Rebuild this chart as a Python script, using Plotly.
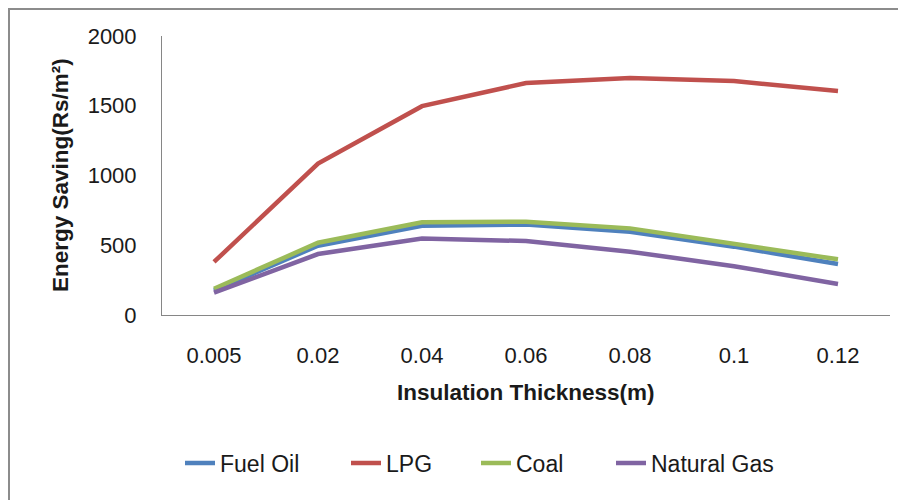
import plotly.graph_objects as go

thickness = ["0.005", "0.02", "0.04", "0.06", "0.08", "0.1", "0.12"]
fuel_oil = [175, 497, 640, 648, 597, 490, 365]
lpg = [380, 1085, 1497, 1663, 1699, 1677, 1605]
coal = [188, 518, 664, 669, 621, 514, 399]
natural_gas = [160, 437, 549, 530, 454, 350, 222]

series = [
    ("Fuel Oil", fuel_oil, "#4F81BD"),
    ("LPG", lpg, "#C0504D"),
    ("Coal", coal, "#9BBB59"),
    ("Natural Gas", natural_gas, "#8064A2"),
]
legend_ids = ["legend", "legend2", "legend3", "legend4"]
legend_text_x = [220, 386, 516, 651]  # where each legend label starts (px)

FONT = "Liberation Sans"
TXT = "#1a1a1a"
fig = go.Figure()
for (name, vals, col), lid in zip(series, legend_ids):
    fig.add_trace(go.Scatter(x=thickness, y=vals, name=name, mode="lines",
                             legend=lid,
                             line=dict(color=col, width=4.5)))

# page is offset by the 8px body margin; work in reference pixel coords
OFF = 8
W, H = 906 - OFF, 500 - OFF
PL, PR, PT, PB = 162, 890, 36, 315  # plot area in reference pixels
L, T = PL - OFF, PT - OFF
R = W - (PR - OFF)
B = H - (PB - OFF)
pw, ph = PR - PL, PB - PT

def px2paper_x(px):
    return (px - PL) / pw

def px2paper_y(py):
    return (PB - py) / ph

legends = {}
for lid, tx in zip(legend_ids, legend_text_x):
    legends[lid] = dict(orientation="h", x=px2paper_x(tx - 40), xanchor="left",
                        y=px2paper_y(463), yanchor="middle",
                        bgcolor="rgba(0,0,0,0)",
                        font=dict(family=FONT, size=23, color=TXT),
                        itemwidth=30)

fig.update_layout(
    width=W, height=H,
    margin=dict(l=L, r=R, t=T, b=B, pad=0),
    paper_bgcolor="white", plot_bgcolor="white",
    font=dict(family=FONT, size=22, color=TXT),
    showlegend=True,
    **legends,
    xaxis=dict(type="category", range=[-0.5, 6.5], showgrid=False,
               showline=True, linecolor="#868686", linewidth=1,
               ticks="outside", ticklen=21, tickcolor="rgba(0,0,0,0)",
               tickfont=dict(family=FONT, size=22, color=TXT),
               zeroline=False),
    yaxis=dict(range=[0, 2000], tickvals=[0, 500, 1000, 1500, 2000],
               showgrid=False, showline=True, linecolor="#868686", linewidth=1,
               ticks="outside", ticklen=20, tickcolor="rgba(0,0,0,0)",
               tickfont=dict(family=FONT, size=22, color=TXT),
               zeroline=False),
    annotations=[
        dict(text="<b>Insulation Thickness(m)</b>", xref="paper", yref="paper",
             x=px2paper_x(526), y=px2paper_y(392), xanchor="center", yanchor="middle",
             showarrow=False, font=dict(family=FONT, size=22.5, color=TXT)),
        dict(text="<b>Energy Saving(Rs/m²)</b>", xref="paper", yref="paper",
             x=px2paper_x(60), y=px2paper_y(175), xanchor="center", yanchor="middle",
             textangle=-90, showarrow=False,
             font=dict(family=FONT, size=22.5, color=TXT)),
    ],
    shapes=[
        dict(type="line", xref="paper", yref="paper",
             x0=px2paper_x(8), x1=px2paper_x(910), y0=px2paper_y(9), y1=px2paper_y(9),
             line=dict(color="#8c8c8c", width=2)),
        dict(type="line", xref="paper", yref="paper",
             x0=px2paper_x(9), x1=px2paper_x(9), y0=px2paper_y(8), y1=px2paper_y(505),
             line=dict(color="#8c8c8c", width=2)),
    ],
)

fig.write_html("out.html")
